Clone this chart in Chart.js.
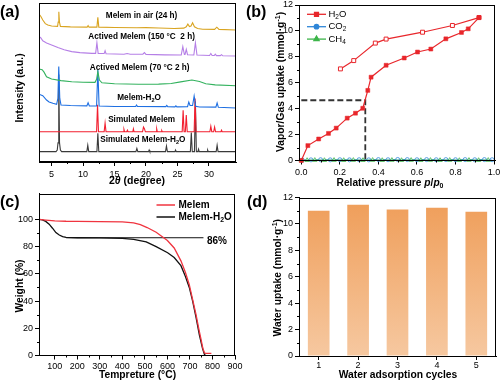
<!DOCTYPE html>
<html><head><meta charset="utf-8">
<script src="https://cdn.jsdelivr.net/npm/chart.js@4/dist/chart.umd.min.js"></script>
<style>
html,body{margin:0;padding:0;background:#fff;width:500px;height:382px;overflow:hidden;position:relative;}
canvas{position:absolute;}
.lab{position:absolute;font:bold 16px 'Liberation Sans',Arial,sans-serif;color:#000;line-height:16px;white-space:nowrap;}
</style></head><body>
<canvas id="ca" width="250" height="191" style="left:0;top:0"></canvas>
<canvas id="cb" width="250" height="191" style="left:250px;top:0"></canvas>
<canvas id="cc" width="250" height="191" style="left:0;top:191px"></canvas>
<canvas id="cd" width="250" height="191" style="left:250px;top:191px"></canvas>
<div class="lab" style="left:0;top:4px">(a)</div>
<div class="lab" style="left:246px;top:4px">(b)</div>
<div class="lab" style="left:0;top:194px">(c)</div>
<div class="lab" style="left:247px;top:194px">(d)</div>
<script>
// ---------- DATA ----------
// (a) XRD patterns, stacked: [2theta, offset intensity]
const xrdTicks = [5, 10, 15, 20, 25, 30];
const xrdAir = [[3.0,93],[3.3,91.5],[3.6,89.3],[4.0,87],[4.4,86.2],[5.0,85.5],[5.95,85.3],[6.05,88],[6.15,94.5],[6.25,88],[6.4,85.3],[8,85],[10.65,84.8],[10.8,85.8],[10.95,84.8],[12.2,84.8],[12.35,91],[12.5,84.8],[15,84.6],[18.5,84.4],[20,84.5],[22,84.3],[24.5,84],[26.0,84.2],[26.4,85],[26.65,86.8],[26.9,85.2],[27.15,85.5],[27.4,87.6],[27.7,85],[28.2,84],[29,83.5],[30.9,83.4],[31.25,84.8],[31.6,83.4],[34.3,83]];
const xrd150 = [[3.0,79],[3.3,78],[3.6,76.2],[4.2,74.8],[5.0,73.6],[6.0,72],[7.0,70.6],[8.2,69.4],[9.5,68.8],[11.4,68.3],[12.0,68.3],[12.2,75],[12.4,68.3],[13.35,68.2],[13.5,70],[13.65,68.1],[16.5,67.8],[17.0,68.2],[17.5,67.8],[19.5,67.8],[19.75,68.8],[20.0,67.7],[23,67.4],[25.6,67.3],[25.85,72.5],[26.1,67.6],[26.2,67.6],[26.4,70.9],[26.6,67.5],[27.6,67.3],[27.85,75],[28.1,67.3],[30.1,67],[30.3,68.2],[30.5,67],[30.85,67],[31.0,67.8],[31.2,66.9],[31.8,66.9],[32.0,67.5],[32.2,66.8],[34.3,66.7]];
const xrd70 = [[3.0,58.5],[3.5,58],[3.8,56.5],[4.2,53.6],[5.0,52.2],[6.5,51.2],[8.2,50.5],[10,50.2],[11.9,50.1],[12.15,52],[12.35,56.8],[12.6,51.5],[13,49.8],[15,49.2],[18.8,48.9],[22,49],[24,49.4],[25.5,50.4],[27.3,51.6],[28.5,50.6],[29.5,49.2],[31,48.5],[34.3,48]];
const xrdH2O = [[3.0,42.6],[3.6,41.7],[4.2,39],[4.6,37.8],[5.2,36.9],[5.8,36.3],[6.0,40],[6.14,60],[6.3,40],[6.5,35.8],[8,35.5],[10.6,35.3],[10.8,37.3],[11.0,35.3],[12.15,35.2],[12.35,58],[12.55,35.2],[15,34.9],[18.35,34.9],[18.5,35.8],[18.65,34.9],[23.15,34.8],[23.3,35.6],[23.45,34.8],[24.6,34.7],[24.75,35.3],[24.9,34.7],[26.6,34.8],[26.8,37.7],[27.0,35.5],[27.4,35.5],[27.65,41.5],[27.9,35],[28.5,34.6],[31.1,34.5],[31.3,37.1],[31.5,34.4],[34.3,34]];
const xrdSim = [[3.0,19],[12.15,19],[12.3,36],[12.45,19],[13.35,19],[13.5,24.5],[13.65,19],[16.4,19],[16.5,20.5],[16.6,19],[16.95,19],[17.05,20],[17.15,19],[17.9,19],[18.0,20.8],[18.1,19],[19.45,19],[19.6,22],[19.75,21],[19.9,19],[21.6,19],[21.7,20.8],[21.8,19],[22.4,19],[22.5,19.8],[22.6,19],[25.75,19],[25.9,32.5],[26.05,19],[26.25,19],[26.4,29.5],[26.55,19],[27.65,19],[27.8,40],[27.95,19],[30.15,19],[30.3,22.5],[30.45,19],[30.75,19],[30.9,22],[31.05,19],[31.9,19],[32.0,20],[32.1,19],[34.3,19]];
const xrdSimH2O = [[3.0,6.5],[5.7,6.5],[5.9,7.5],[6.02,12],[6.14,55],[6.26,12],[6.4,7.5],[6.6,6.5],[10.6,6.5],[10.75,10.5],[10.9,6.5],[12.2,6.5],[12.35,18],[12.5,6.5],[18.4,6.5],[18.55,8.5],[18.7,6.5],[20.4,6.5],[20.5,7.5],[20.6,6.5],[23.1,6.5],[23.25,10],[23.4,6.5],[24.6,6.5],[24.7,7.5],[24.8,6.5],[27.05,6.5],[27.2,18.5],[27.35,6.5],[27.7,6.5],[27.85,38],[28.0,6.5],[28.25,6.5],[28.35,8],[28.45,6.5],[29.7,6.5],[29.8,7.5],[29.9,6.5],[31.15,6.5],[31.3,10.5],[31.45,6.5],[34.3,6.5]];

// (b) sorption isotherms: [p/p0, uptake mmol/g]
const isoTicksX = [0, 0.2, 0.4, 0.6, 0.8, 1.0];
const isoTicksY = [0, 2, 4, 6, 8, 10, 12];
const h2oAds = [[0,0],[0.034,1.15],[0.09,1.66],[0.141,2.09],[0.181,2.5],[0.238,3.27],[0.281,3.65],[0.319,4.03],[0.345,5.41],[0.362,6.43],[0.44,7.35],[0.534,7.91],[0.603,8.37],[0.672,8.6],[0.75,9.39],[0.831,9.88],[0.866,10.16],[0.922,11.03]];
const h2oDes = [[0.922,11.03],[0.784,10.42],[0.629,9.9],[0.44,9.37],[0.384,9.06],[0.272,7.71],[0.203,7.07]];
const co2Iso = [[0.005,0.03],[0.05,0.05],[0.1,0.06],[0.15,0.05],[0.2,0.06],[0.25,0.05],[0.3,0.06],[0.35,0.05],[0.4,0.07],[0.45,0.06],[0.5,0.08],[0.55,0.07],[0.6,0.06],[0.65,0.07],[0.7,0.06],[0.75,0.07],[0.8,0.06],[0.85,0.07],[0.9,0.06],[0.95,0.07],[0.99,0.06]];
const ch4Iso = [[0.0,0.0],[0.03,0.02],[0.07,0.03],[0.12,0.02],[0.17,0.03],[0.22,0.02],[0.27,0.03],[0.32,0.02],[0.37,0.03],[0.42,0.02],[0.47,0.03],[0.52,0.02],[0.57,0.03],[0.62,0.02],[0.67,0.03],[0.72,0.02],[0.77,0.03],[0.82,0.02],[0.87,0.03],[0.92,0.02],[0.97,0.03]];
const guide = [[0,4.65],[0.332,4.65],[0.332,0]];

// (c) TGA: [temperature C, weight %]
const tgaTicksX = [100, 200, 300, 400, 500, 600, 700, 800, 900];
const tgaTicksY = [0, 20, 40, 60, 80, 100];
const tgaMelem = [[30,100],[60,99.5],[100,98.9],[150,98.6],[200,98.5],[300,98.3],[400,98.1],[450,97.4],[480,96.2],[510,94],[550,90.5],[600,84.5],[630,79],[660,69.5],[680,61],[697,52],[712,41],[727,30],[740,19],[749,12],[757,5.5],[764,2],[770,1.5],[795,1.5]];
const tgaMelemH2O = [[30,100],[45,99.6],[60,98.5],[75,96.5],[90,93.5],[105,90.3],[120,88.5],[135,87.3],[150,86.7],[200,86.5],[300,86.4],[400,86.1],[450,85.3],[506,83.5],[550,80],[601,75.5],[630,72],[660,66],[680,58],[697,50],[712,40],[727,28],[742,15],[756,5],[765,0.5],[771,0]];
const plateau = [[150,86.5],[760,86.5]];

// (d) cycling
const cycles = ['1', '2', '3', '4', '5'];
const uptake = [11.0, 11.45, 11.1, 11.22, 10.93];
const cycTicksY = [0, 2, 4, 6, 8, 10, 12];

// ---------- HELPERS ----------
const F = "'Liberation Sans', Arial, Helvetica, sans-serif";
Chart.defaults.font.family = F;
Chart.defaults.font.size = 9;
Chart.defaults.color = '#000';
Chart.defaults.animation = false;
Chart.defaults.plugins.legend.display = false;
Chart.defaults.plugins.tooltip.enabled = false;

const pts = arr => arr.map(([x, y]) => ({x, y}));
const fixW = w => s => { s.width = w; s.paddingTop = 0; s.paddingBottom = 0; s.paddingLeft = 0; s.paddingRight = 0; };
const fixH = h => s => { s.height = h; s.paddingTop = 0; s.paddingBottom = 0; s.paddingLeft = 0; s.paddingRight = 0; };
const setTicks = vals => s => { s.ticks = vals.map(v => ({value: v})); };
const grid = () => ({display: true, drawOnChartArea: false, drawTicks: true, tickLength: 4, color: '#000', lineWidth: 1});
const border = () => ({display: true, color: '#000', width: 1});

function drawRich(ctx, segs, x, y, size, rot, align) {
  ctx.save();
  ctx.translate(x, y);
  if (rot) ctx.rotate(rot);
  const parts = segs.map(s => {
    const small = s.sub || s.sup;
    const sz = small ? size * 0.68 : size;
    const font = (s.it ? 'italic ' : '') + (s.wt || 'bold') + ' ' + sz + 'px ' + F;
    ctx.font = font;
    return {t: s.t, font, w: ctx.measureText(s.t).width, dy: s.sub ? size * 0.3 : (s.sup ? -size * 0.35 : 0)};
  });
  const total = parts.reduce((a, p) => a + p.w, 0);
  let cx = align === 'left' ? 0 : -total / 2;
  ctx.textBaseline = 'middle';
  ctx.textAlign = 'left';
  ctx.fillStyle = '#000';
  parts.forEach(p => { ctx.font = p.font; ctx.fillText(p.t, cx, p.dy); cx += p.w; });
  ctx.restore();
}
function frame(chart) {
  const {ctx, chartArea: a} = chart;
  ctx.save();
  ctx.strokeStyle = '#000'; ctx.lineWidth = 1;
  ctx.strokeRect(Math.round(a.left) + 0.5, Math.round(a.top) + 0.5, Math.round(a.right - a.left) - 1, Math.round(a.bottom - a.top) - 1);
  ctx.restore();
}
function minor(chart, id, vals, len) {
  const s = chart.scales[id], a = chart.chartArea, c = chart.ctx;
  c.save(); c.strokeStyle = '#000'; c.lineWidth = 1; c.beginPath();
  vals.forEach(v => {
    const p = Math.round(s.getPixelForValue(v)) + 0.5;
    if (s.isHorizontal()) { c.moveTo(p, a.bottom); c.lineTo(p, a.bottom + len); }
    else { c.moveTo(a.left, p); c.lineTo(a.left - len, p); }
  });
  c.stroke(); c.restore();
}
const mid = ticks => ticks.slice(0, -1).map((t, i) => (t + ticks[i + 1]) / 2);

// ---------- (a) ----------
const xrdSeries = [
  {d: xrdAir, c: '#D9A420'},
  {d: xrd150, c: '#B57FE6'},
  {d: xrd70, c: '#33B25E'},
  {d: xrdH2O, c: '#1E6FE2'},
  {d: xrdSim, c: '#F21F2F'},
  {d: xrdSimH2O, c: '#3A3A3A'}
];
const xrdLabels = [
  {x: 19.3, y: 92, s: [{t: 'Melem in air (24 h)'}]},
  {x: 19.3, y: 78.8, s: [{t: 'Actived Melem (150 °C  2 h)'}]},
  {x: 19.0, y: 59.3, s: [{t: 'Actived Melem (70 °C 2 h)'}]},
  {x: 18.9, y: 40.4, s: [{t: 'Melem-H'}, {t: '2', sub: 1}, {t: 'O'}]},
  {x: 19.3, y: 26.4, s: [{t: 'Simulated Melem'}]},
  {x: 19.5, y: 13.8, s: [{t: 'Simulated Melem-H'}, {t: '2', sub: 1}, {t: 'O'}]}
];
new Chart(document.getElementById('ca'), {
  type: 'scatter',
  data: {datasets: xrdSeries.map(s => ({data: pts(s.d), showLine: true, borderColor: s.c, borderWidth: 1.1, pointRadius: 0, tension: 0}))},
  options: {
    responsive: false,
    layout: {padding: {left: 0, top: 3, right: 14, bottom: 0}},
    scales: {
      x: {type: 'linear', min: 3, max: 34.3, afterBuildTicks: setTicks(xrdTicks), afterFit: fixH(29),
          grid: grid(), border: border(), ticks: {padding: 3, maxRotation: 0, autoSkip: false}},
      y: {type: 'linear', min: 0, max: 100, afterFit: fixW(39), ticks: {display: false},
          grid: {display: false}, border: border()}
    }
  },
  plugins: [{id: 'pa', afterDraw(chart) {
    frame(chart);
    minor(chart, 'x', mid(xrdTicks), 2);
    const xs = chart.scales.x, ys = chart.scales.y, ctx = chart.ctx;
    xrdLabels.forEach(l => drawRich(ctx, l.s, xs.getPixelForValue(l.x), ys.getPixelForValue(l.y), 8.2));
    drawRich(ctx, [{t: 'Intensity (a.u.)'}], 20.5, 88, 10.2, -Math.PI / 2);
    drawRich(ctx, [{t: '2'}, {t: 'θ', it: 1}, {t: ' (degree)'}], 137, 181.5, 10.5);
  }}]
});

// ---------- (b) ----------
const isoLegend = [
  {c: '#E8262B', ps: 'rect', r: 2.8, s: [{t: 'H', wt: 'normal'}, {t: '2', sub: 1, wt: 'normal'}, {t: 'O', wt: 'normal'}]},
  {c: '#2F86D8', ps: 'circle', r: 2.2, s: [{t: 'CO', wt: 'normal'}, {t: '2', sub: 1, wt: 'normal'}]},
  {c: '#3DB54A', ps: 'triangle', r: 3, s: [{t: 'CH', wt: 'normal'}, {t: '4', sub: 1, wt: 'normal'}]}
];
new Chart(document.getElementById('cb'), {
  type: 'scatter',
  data: {datasets: [
    {data: pts(h2oAds), showLine: true, borderColor: '#E8262B', borderWidth: 1.2, pointStyle: 'rect', pointRadius: 2.8, pointBackgroundColor: '#E8262B', pointBorderColor: '#E8262B', pointBorderWidth: 0.5, clip: false},
    {data: pts(h2oDes), showLine: true, borderColor: '#E8262B', borderWidth: 1.2, pointStyle: 'rect', pointRadius: 2.8, pointBackgroundColor: '#fff', pointBorderColor: '#E8262B', pointBorderWidth: 1, clip: false},
    {data: pts(ch4Iso), showLine: true, borderColor: '#3DB54A', borderWidth: 1, pointStyle: 'triangle', pointRadius: 2.5, pointBackgroundColor: 'rgba(255,255,255,0.6)', pointBorderColor: '#3DB54A', pointBorderWidth: 0.8, clip: false},
    {data: pts(co2Iso), showLine: true, borderColor: '#2F86D8', borderWidth: 1, pointStyle: 'circle', pointRadius: 2, pointBackgroundColor: 'rgba(255,255,255,0.6)', pointBorderColor: '#2F86D8', pointBorderWidth: 0.8, clip: false},
    {data: pts(guide), showLine: true, borderColor: '#333', borderWidth: 1.8, borderDash: [6, 3], pointRadius: 0, clip: false}
  ]},
  options: {
    responsive: false,
    layout: {padding: {left: 0, top: 3, right: 4, bottom: 0}},
    scales: {
      x: {type: 'linear', min: -0.012, max: 1.005, afterBuildTicks: setTicks(isoTicksX), afterFit: fixH(30.5),
          grid: grid(), border: border(),
          ticks: {padding: 3, maxRotation: 0, autoSkip: false, callback: v => v.toFixed(1)}},
      y: {type: 'linear', min: 0, max: 12, afterBuildTicks: setTicks(isoTicksY), afterFit: fixW(49),
          grid: grid(), border: border(), ticks: {padding: 2, autoSkip: false}}
    }
  },
  plugins: [{id: 'pb', afterDraw(chart) {
    frame(chart);
    minor(chart, 'x', mid(isoTicksX), 2);
    minor(chart, 'y', mid(isoTicksY), 2);
    const ctx = chart.ctx;
    isoLegend.forEach((l, i) => {
      const y = 14.3 + i * 12.4;
      ctx.save();
      ctx.strokeStyle = l.c; ctx.lineWidth = 1.3;
      ctx.beginPath(); ctx.moveTo(57, y); ctx.lineTo(76, y); ctx.stroke();
      ctx.fillStyle = l.c; ctx.strokeStyle = l.c;
      Chart.helpers.drawPoint(ctx, {pointStyle: l.ps, radius: l.r, borderWidth: 0.5}, 66.5, y);
      ctx.restore();
      drawRich(ctx, l.s, 78.5, y, 9.5, 0, 'left');
    });
    drawRich(ctx, [{t: 'Vapor/Gas uptake (mmol·g'}, {t: '-1', sup: 1}, {t: ')'}], 31.5, 82, 10.3, -Math.PI / 2);
    drawRich(ctx, [{t: 'Relative pressure '}, {t: 'p', it: 1}, {t: '/'}, {t: 'p', it: 1}, {t: '0', sub: 1}], 140, 183, 10.2);
  }}]
});

// ---------- (c) ----------
new Chart(document.getElementById('cc'), {
  type: 'scatter',
  data: {datasets: [
    {data: pts(tgaMelem), showLine: true, borderColor: '#F0343F', borderWidth: 1.3, pointRadius: 0},
    {data: pts(tgaMelemH2O), showLine: true, borderColor: '#111', borderWidth: 1.3, pointRadius: 0},
    {data: pts(plateau), showLine: true, borderColor: '#111', borderWidth: 1, pointRadius: 0}
  ]},
  options: {
    responsive: false,
    layout: {padding: {left: 0, top: 2.5, right: 15, bottom: 0}},
    scales: {
      x: {type: 'linear', min: 30, max: 900, afterBuildTicks: setTicks(tgaTicksX), afterFit: fixH(26.5),
          grid: grid(), border: border(), ticks: {padding: 2, maxRotation: 0, autoSkip: false}},
      y: {type: 'linear', min: 0, max: 119, afterBuildTicks: setTicks(tgaTicksY), afterFit: fixW(39),
          grid: grid(), border: border(), ticks: {padding: 2, autoSkip: false}}
    }
  },
  plugins: [{id: 'pc', afterDraw(chart) {
    frame(chart);
    minor(chart, 'x', mid(tgaTicksX), 2);
    minor(chart, 'y', mid(tgaTicksY), 2);
    const ctx = chart.ctx;
    ctx.save();
    ctx.lineWidth = 1.5;
    ctx.strokeStyle = '#F0343F'; ctx.beginPath(); ctx.moveTo(156.5, 14); ctx.lineTo(175, 14); ctx.stroke();
    ctx.strokeStyle = '#111'; ctx.beginPath(); ctx.moveTo(156.5, 26); ctx.lineTo(175, 26); ctx.stroke();
    ctx.restore();
    drawRich(ctx, [{t: 'Melem'}], 178.5, 14, 10, 0, 'left');
    drawRich(ctx, [{t: 'Melem-H'}, {t: '2', sub: 1}, {t: 'O'}], 178.5, 26, 10, 0, 'left');
    drawRich(ctx, [{t: '86%'}], 207, 50, 10, 0, 'left');
    drawRich(ctx, [{t: 'Weight (%)'}], 20.5, 95, 10.3, -Math.PI / 2);
    drawRich(ctx, [{t: 'Tempreture (°C)'}], 137.5, 184.5, 10.3);
  }}]
});

// ---------- (d) ----------
new Chart(document.getElementById('cd'), {
  type: 'bar',
  data: {labels: cycles, datasets: [{
    data: uptake,
    backgroundColor: ctx => {
      const ch = ctx.chart, a = ch.chartArea;
      if (!a) return '#F2AE73';
      const g = ch.ctx.createLinearGradient(0, a.top, 0, a.bottom);
      g.addColorStop(0, '#EF9D58');
      g.addColorStop(1, '#F6C8A0');
      return g;
    },
    borderWidth: 0,
    barPercentage: 0.55,
    categoryPercentage: 1
  }]},
  options: {
    responsive: false,
    layout: {padding: {left: 0, top: 6.5, right: 4, bottom: 0}},
    scales: {
      x: {type: 'category', afterFit: fixH(26), grid: Object.assign(grid(), {offset: false}), border: border(),
          ticks: {padding: 0, maxRotation: 0, autoSkip: false}},
      y: {type: 'linear', min: 0, max: 12, afterBuildTicks: setTicks(cycTicksY), afterFit: fixW(49),
          grid: grid(), border: border(), ticks: {padding: 2, autoSkip: false}}
    }
  },
  plugins: [{id: 'pd', afterDraw(chart) {
    frame(chart);
    minor(chart, 'y', mid(cycTicksY), 2);
    const ctx = chart.ctx;
    drawRich(ctx, [{t: 'Water uptake (mmol·g'}, {t: '-1', sup: 1}, {t: ')'}], 28.3, 86.7, 10.3, -Math.PI / 2);
    drawRich(ctx, [{t: 'Water adsorption cycles'}], 148, 184, 10.3);
  }}]
});
</script>
</body></html>
